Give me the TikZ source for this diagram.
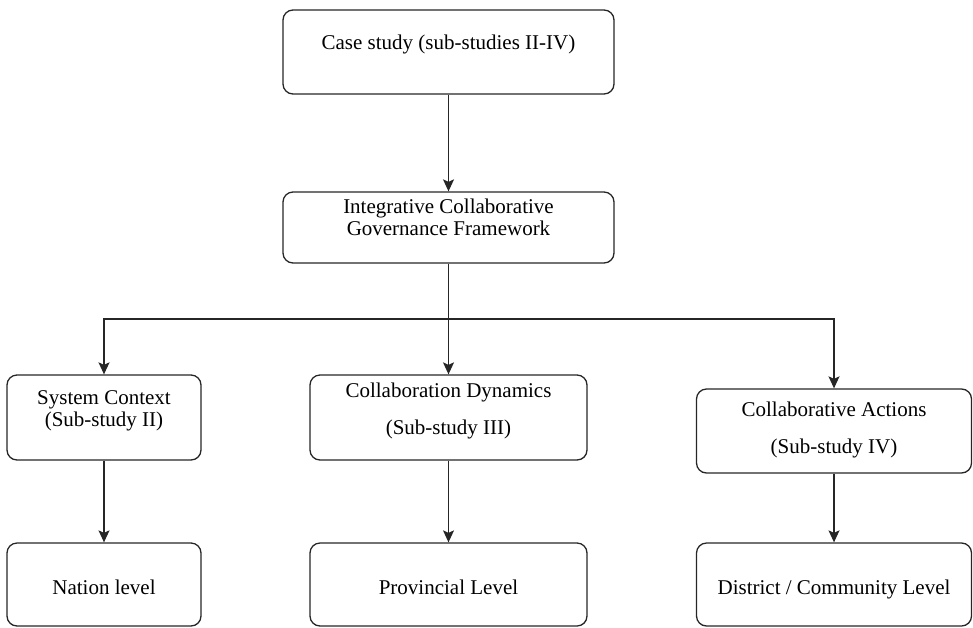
\documentclass[tikz,border=0pt]{standalone}
\usepackage{fontspec}
\setmainfont{Liberation Serif}
\usetikzlibrary{arrows.meta}

\newcommand{\boxtext}[2]{\raisebox{#1pt}[\height][\depth]{\begin{tabular}{@{}c@{}}#2\end{tabular}}}

\tikzset{
  stage/.style={draw=black!85, line width=1.3pt, rounded corners=10pt, inner sep=0pt,
                font=\fontsize{21}{22}\selectfont},
  flow/.style={draw=black!85, line width=1.3pt, -{Stealth[length=12pt,width=11pt,inset=2.5pt]}},
  wire/.style={draw=black!85, line width=1.3pt}
}

\begin{document}
\begin{tikzpicture}[x=1pt, y=-1pt]

\useasboundingbox (0,0) rectangle (973,627);

% top of the tree
\node[stage, minimum width=331pt, minimum height=84pt] (case) at (448.5,52)
  {\boxtext{7}{Case study (sub-studies II-IV)}};
\node[stage, minimum width=331pt, minimum height=71pt] (icgf) at (448.5,227.5)
  {\boxtext{7.5}{Integrative Collaborative\\Governance Framework}};

% sub-studies
\node[stage, minimum width=194pt, minimum height=85pt] (sys) at (104,417.5)
  {\boxtext{6.5}{System Context\\(Sub-study II)}};
\node[stage, minimum width=277pt, minimum height=85pt] (dyn) at (448.5,417.5)
  {\boxtext{6}{Collaboration Dynamics\\[15pt](Sub-study III)}};
\node[stage, minimum width=275pt, minimum height=84pt] (act) at (834,431)
  {\boxtext{0}{Collaborative Actions\\[15pt](Sub-study IV)}};

% levels
\node[stage, minimum width=194pt, minimum height=83pt] (nation) at (104,584.5)
  {\boxtext{-5.5}{Nation level}};
\node[stage, minimum width=277pt, minimum height=83pt] (prov) at (448.5,584.5)
  {\boxtext{-5.5}{Provincial Level}};
\node[stage, minimum width=275pt, minimum height=83pt] (dist) at (834,584.5)
  {\boxtext{-5.5}{District / Community Level}};

\draw[flow] (case) -- (icgf);

\coordinate (split) at (448.5,319);
\draw[wire] (icgf) -- (split);
\draw[flow] (split) -| (sys);
\draw[flow] (split) -- (dyn);
\draw[flow] (split) -| (act);

\draw[flow] (sys) -- (nation);
\draw[flow] (dyn) -- (prov);
\draw[flow] (act) -- (dist);

\end{tikzpicture}
\end{document}
